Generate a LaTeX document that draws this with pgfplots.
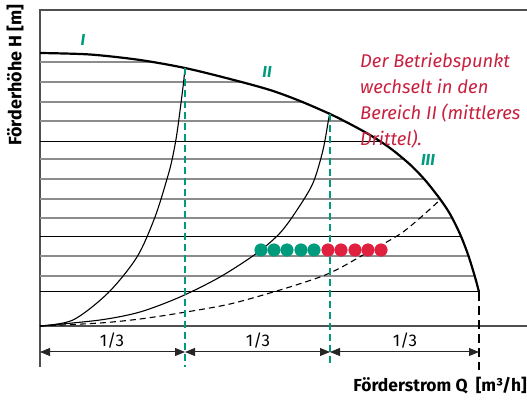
\documentclass[border=0pt]{standalone}
\usepackage{pgfplots}
\pgfplotsset{compat=1.18}
\usepackage{fontspec}
\setmainfont{Fira Sans}
\usetikzlibrary{arrows.meta}
\definecolor{wgreen}{HTML}{009B7D}
\definecolor{wred}{HTML}{C8203F}
\definecolor{dotred}{HTML}{E0203F}
\definecolor{hgrey}{HTML}{8C8C8C}
\definecolor{framegrey}{HTML}{505050}

\begin{document}
\begin{tikzpicture}
\begin{axis}[
  at={(40bp,0bp)}, anchor=south west,
  x=1bp, y=1bp,
  xmin=0, xmax=487, ymin=-75, ymax=316,
  axis lines=none, clip=false,
  unbounded coords=jump,
]
% frame
\draw[framegrey, line width=1.5bp] (0,-41) -- (0,316) -- (487,316);
\draw[framegrey, line width=1.3bp] (0,0) -- (487,0);

% horizontal lines under the pump curve
\addplot[hgrey, line width=1.4bp] coordinates {
  (0,264)(112,264)(nan,nan)
  (0,244)(203,244)(nan,nan)
  (0,224)(262,224)(nan,nan)
  (0,205)(304,205)(nan,nan)
  (0,167)(363,167)(nan,nan)
  (0,147)(384,147)(nan,nan)
  (0,127)(400,127)(nan,nan)
  (0,108)(412,108)(nan,nan)
  (0,70)(428,70)(nan,nan)
  (0,50)(434,50)
};
\addplot[black, line width=1bp] coordinates {
  (0,184)(341,184)(nan,nan)
  (0,89)(421,89)(nan,nan)
  (0,34)(439,34)
};

% system curves
\addplot[black, line width=1.1bp, smooth] coordinates {
  (0,0)(33,6)(68,33)(97,69)(115,109)(127,147)(132,166)(137,193)(143,239)(145,258)
};
\addplot[black, line width=1.1bp, smooth] coordinates {
  (0,0)(60,6)(100,14)(140,29)(180,49)(217,73)(240,93)(257,116)(273,143)(283,176)(289,209)(290,212)
};
\addplot[black, line width=1.1bp, smooth, dash pattern=on 6bp off 4bp] coordinates {
  (0,0)(60,3)(100,7)(140,13)(190,22)(240,36)(280,49)(300,58)(323,71)(363,94)(400,126)
};

% pump curve
\addplot[black, line width=2.2bp, smooth] coordinates {
  (0,273)(50,271.5)(100,266)(145,258)(190,247)(230,236)(260,225)(290,212)(310,202)(330,191)(350,178)(370,161.5)(385,146)(400,127)(410,112)(420,92)(428,71.5)(435,49)(439,34)
};

% vertical dashed lines
\draw[wgreen, line width=1.3bp, dash pattern=on 7bp off 4bp] (145,258) -- (145,-41);
\draw[wgreen, line width=1.3bp, dash pattern=on 7bp off 4bp] (290,212) -- (290,-41);
\draw[black, line width=1.3bp, dash pattern=on 9bp off 5bp] (439,34) -- (439,-44);

% operating points
\addplot[only marks, mark=*, mark size=6.3bp, color=wgreen] coordinates {
  (221,76)(234,76)(247,76)(261,76)(274,76)
};
\addplot[only marks, mark=*, mark size=6.3bp, color=dotred] coordinates {
  (288,76)(301,76)(315,76)(328,76)(341,76)
};

% dimension arrows
\draw[{Triangle[length=10bp,width=8bp]}-{Triangle[length=10bp,width=8bp]}, line width=1bp, black!85] (0,-26) -- (145,-26);
\draw[{Triangle[length=10bp,width=8bp]}-{Triangle[length=10bp,width=8bp]}, line width=1bp, black!85] (145,-26) -- (290,-26);
\draw[{Triangle[length=10bp,width=8bp]}-{Triangle[length=10bp,width=8bp]}, line width=1bp, black!85] (290,-26) -- (439,-26);
\node[font=\fontsize{17}{20}\selectfont] at (72,-15) {1/3};
\node[font=\fontsize{17}{20}\selectfont] at (218,-15) {1/3};
\node[font=\fontsize{17}{20}\selectfont] at (365,-15) {1/3};

% region labels
\node[font=\fontsize{16}{18}\selectfont\bfseries\itshape, text=wgreen] at (43,286) {I};
\node[font=\fontsize{16}{18}\selectfont\bfseries\itshape, text=wgreen] at (227,254) {II};
\node[font=\fontsize{16}{18}\selectfont\bfseries\itshape, text=wgreen] at (388,166) {III};

% annotation
\node[anchor=base west, inner sep=0, font=\fontsize{18.5}{20}\selectfont\itshape, text=wred] at (320,259) {Der Betriebspunkt};
\node[anchor=base west, inner sep=0, font=\fontsize{18.5}{20}\selectfont\itshape, text=wred] at (320,233) {wechselt in den};
\node[anchor=base west, inner sep=0, font=\fontsize{18.5}{20}\selectfont\itshape, text=wred] at (320,207) {Bereich II (mittleres};
\node[anchor=base west, inner sep=0, font=\fontsize{18.5}{20}\selectfont\itshape, text=wred] at (320,181) {Drittel).};

% axis titles
\node[rotate=90, font=\fontsize{18}{20}\selectfont\bfseries] at (-25,251) {Förderhöhe H [m]};
\node[anchor=east, inner sep=0, font=\fontsize{17.5}{20}\selectfont\bfseries] at (487,-60) {Förderstrom Q\ \ [m³/h]};
\end{axis}
\pgfresetboundingbox
\useasboundingbox (0,0) rectangle (527bp,401bp);
\end{tikzpicture}
\end{document}
